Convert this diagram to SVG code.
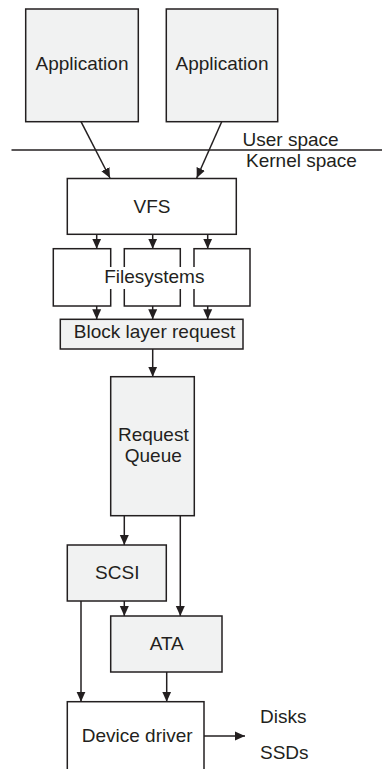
<svg xmlns="http://www.w3.org/2000/svg" width="382" height="769" viewBox="0 0 382 769">
  <style>
    .box { stroke: #231f20; stroke-width: 1.5; }
    .grey { fill: #f1f2f2; }
    .white { fill: #ffffff; }
    .lbl { font-family: "Liberation Sans", Arial, sans-serif; font-size: 19px; fill: #231f20; }
    .mid { text-anchor: middle; }
    .wire { fill: none; stroke: #231f20; stroke-width: 1.5; marker-end: url(#arrow); }
  </style>
  <defs>
    <marker id="arrow" viewBox="0 0 10 10" refX="10" refY="5" markerWidth="10" markerHeight="10" markerUnits="userSpaceOnUse" orient="auto">
      <path d="M0,0.5 L10,5 L0,9.5 Z" fill="#231f20"/>
    </marker>
  </defs>
  <rect width="382" height="769" fill="#ffffff"/>

  <!-- user / kernel boundary -->
  <g id="boundary">
    <line x1="11.5" y1="150" x2="382" y2="150" stroke="#231f20" stroke-width="1.5"/>
    <text class="lbl" x="242.5" y="145.5">User space</text>
    <text class="lbl" x="246" y="166.5">Kernel space</text>
  </g>

  <g id="app1">
    <rect class="box grey" x="25.7" y="9" width="112.6" height="112.7"/>
    <text class="lbl mid" x="82" y="70">Application</text>
  </g>
  <g id="app2">
    <rect class="box grey" x="166.3" y="9" width="111.4" height="112.7"/>
    <text class="lbl mid" x="222" y="70">Application</text>
  </g>

  <g id="vfs">
    <rect class="box white" x="67.3" y="178.5" width="169" height="55.8"/>
    <text class="lbl mid" x="152" y="212.7">VFS</text>
  </g>

  <g id="filesystems">
    <rect class="box white" x="53.3" y="248.7" width="57.4" height="57.3"/>
    <rect class="box white" x="124.3" y="248.7" width="56" height="57.3"/>
    <rect class="box white" x="194" y="248.7" width="56" height="57.3"/>
    <rect x="105" y="267" width="99" height="22" fill="#ffffff"/>
    <text class="lbl mid" x="154.3" y="283.3">Filesystems</text>
  </g>

  <g id="block-layer">
    <rect class="box grey" x="60.3" y="319.3" width="182.7" height="29.7"/>
    <text class="lbl mid" x="154.6" y="338.3">Block layer request</text>
  </g>

  <g id="request-queue">
    <rect class="box grey" x="110.7" y="376.7" width="83.6" height="139"/>
    <text class="lbl mid" x="153.3" y="441">Request</text>
    <text class="lbl mid" x="153.3" y="462.3">Queue</text>
  </g>

  <g id="scsi">
    <rect class="box grey" x="67.3" y="545" width="99" height="56"/>
    <text class="lbl mid" x="117.3" y="579">SCSI</text>
  </g>

  <g id="ata">
    <rect class="box grey" x="110.7" y="616" width="111.3" height="56"/>
    <text class="lbl mid" x="166.7" y="650">ATA</text>
  </g>

  <g id="device-driver">
    <rect class="box white" x="67.3" y="701.7" width="136.7" height="80"/>
    <text class="lbl mid" x="137.2" y="741.7">Device driver</text>
  </g>

  <g id="devices">
    <text class="lbl" x="260" y="723.3">Disks</text>
    <text class="lbl" x="260" y="759.3">SSDs</text>
  </g>

  <g id="connectors">
    <line class="wire" x1="81" y1="121.7" x2="110" y2="178"/>
    <line class="wire" x1="221.7" y1="121.7" x2="196.7" y2="178"/>
    <line class="wire" x1="96.7" y1="234.3" x2="96.7" y2="248.7"/>
    <line class="wire" x1="152.7" y1="234.3" x2="152.7" y2="248.7"/>
    <line class="wire" x1="207.7" y1="234.3" x2="207.7" y2="248.7"/>
    <line class="wire" x1="96.7" y1="306" x2="96.7" y2="319.3"/>
    <line class="wire" x1="152.7" y1="306" x2="152.7" y2="319.3"/>
    <line class="wire" x1="207.7" y1="306" x2="207.7" y2="319.3"/>
    <line class="wire" x1="152.7" y1="349" x2="152.7" y2="376.7"/>
    <line class="wire" x1="124.3" y1="515.7" x2="124.3" y2="545"/>
    <line class="wire" x1="180.3" y1="515.7" x2="180.3" y2="616"/>
    <line class="wire" x1="124.3" y1="601" x2="124.3" y2="616"/>
    <line class="wire" x1="81" y1="601" x2="81" y2="701.7"/>
    <line class="wire" x1="166.7" y1="672" x2="166.7" y2="701.7"/>
    <line class="wire" x1="204" y1="736" x2="245" y2="736"/>
  </g>
</svg>
